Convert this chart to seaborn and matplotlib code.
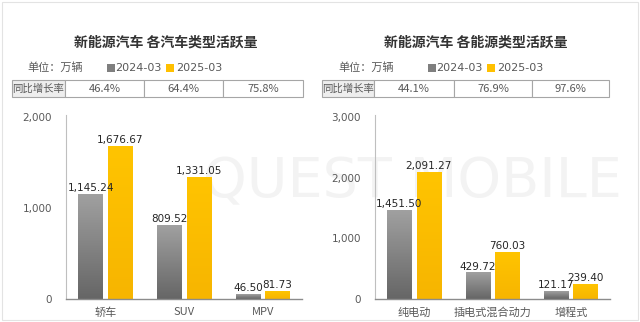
import numpy as np
import pandas as pd
import seaborn as sns
import matplotlib.pyplot as plt
from matplotlib.patches import Rectangle
from matplotlib.colors import LinearSegmentedColormap

sns.set_theme(style="white")
plt.rcParams['font.family'] = ['Noto Sans CJK SC', 'DejaVu Sans']

# ---------------- data ----------------
periods = ["2024-03", "2025-03"]
unit_label = "单位：万辆"
yoy_label = "同比增长率"

left_title = "新能源汽车 各汽车类型活跃量"
left_cats = ["轿车", "SUV", "MPV"]
left_2024 = [1145.24, 809.52, 46.50]
left_2025 = [1676.67, 1331.05, 81.73]
left_yoy = ["46.4%", "64.4%", "75.8%"]
left_ticks = [0, 1000, 2000]

right_title = "新能源汽车 各能源类型活跃量"
right_cats = ["纯电动", "插电式混合动力", "增程式"]
right_2024 = [1451.50, 429.72, 121.17]
right_2025 = [2091.27, 760.03, 239.40]
right_yoy = ["44.1%", "76.9%", "97.6%"]
right_ticks = [0, 1000, 2000, 3000]

# ---------------- style ----------------
W, H = 640, 322
GRAY = "#7f7f7f"
YELLOW = "#ffc000"
GRAD = {GRAY: ("#a0a0a0", "#666666"), YELLOW: ("#ffc400", "#f7b500")}
TXT = "#262626"
TICK = "#595959"

fig = plt.figure(figsize=(W / 100, H / 100), dpi=100)
fig.patch.set_facecolor("white")


def fx(px):
    return px / W


def fy(py):
    return 1 - py / H


# background layer: faint watermark + card border
bg = fig.add_axes([0, 0, 1, 1], zorder=-5)
bg.set_xlim(0, W)
bg.set_ylim(H, 0)
bg.axis("off")
bg.text(203, 182, "QUEST MOBILE", fontsize=40, color="#f3f3f3",
        ha="left", va="center", family="DejaVu Sans")
bg.add_patch(Rectangle((2, 2), 636, 318, fill=False, edgecolor="#e3e3e3", lw=0.8))


def panel(cats, v24, v25, yoy, ticks, title, ax_px, title_x, unit_x, leg_px, table_px):
    x0, y0, x1, y1 = ax_px
    ax = fig.add_axes([fx(x0), fy(y1), fx(x1 - x0), (y1 - y0) / H])
    ax.patch.set_alpha(0)
    df = pd.DataFrame({
        "cat": cats * 2,
        "period": [periods[0]] * len(cats) + [periods[1]] * len(cats),
        "value": list(v24) + list(v25),
    })
    sns.barplot(data=df, x="cat", y="value", hue="period", order=cats,
                hue_order=periods, palette=[GRAY, YELLOW], width=0.75, gap=0.17,
                legend=False, ax=ax, saturation=1, errorbar=None)
    for cont, vals in zip(ax.containers, [v24, v25]):
        ax.bar_label(cont, labels=[f"{v:,.2f}" for v in vals], padding=1,
                     fontsize=7.5, color=TXT, family="DejaVu Sans")
    ymax = ticks[-1]
    # gradient fill for bars
    for p in list(ax.patches):
        c = p.get_facecolor()
        hexc = GRAY if abs(c[0] - c[2]) < 0.1 else YELLOW
        top, bot = GRAD[hexc]
        cmap = LinearSegmentedColormap.from_list("g", [top, bot])
        x, w, h = p.get_x(), p.get_width(), p.get_height()
        ax.imshow(np.linspace(0, 1, 64).reshape(-1, 1), extent=[x, x + w, 0, h],
                  origin="upper", aspect="auto", cmap=cmap, zorder=2)
        p.set_visible(False)
    ax.set_ylim(0, ymax * 1.01)
    ax.set_xlim(-0.5, len(cats) - 0.5)
    ax.set_yticks(ticks)
    ax.set_yticklabels([f"{t:,}" for t in ticks], family="DejaVu Sans")
    ax.tick_params(axis="y", length=0, pad=10, labelsize=7.5, labelcolor=TICK)
    ax.tick_params(axis="x", length=0, pad=6, labelsize=8, labelcolor=TICK)
    ax.set_xlabel("")
    ax.set_ylabel("")
    for s in ["top", "right"]:
        ax.spines[s].set_visible(False)
    ax.spines["left"].set_color("#bfbfbf")
    ax.spines["left"].set_linewidth(0.8)
    ax.spines["bottom"].set_color("#8c8c8c")
    ax.spines["bottom"].set_linewidth(1.0)

    # title
    fig.text(fx(title_x), fy(43), title, fontsize=10, fontweight="bold",
             color="#333333", ha="center", va="center")
    # unit + legend
    fig.text(fx(unit_x), fy(68), unit_label, fontsize=8, color=TICK, ha="left", va="center")
    for (sx, tx), col, lab in zip(leg_px, [GRAY, YELLOW], periods):
        fig.patches.append(Rectangle((fx(sx), fy(72)), fx(8), 8 / H, transform=fig.transFigure,
                                     facecolor=col, edgecolor="none"))
        fig.text(fx(tx), fy(68), lab, fontsize=8, color=TICK, ha="left", va="center",
                 family="DejaVu Sans")
    # YoY table
    ty0, ty1 = 80, 97
    for i in range(len(table_px) - 1):
        a, b = table_px[i], table_px[i + 1]
        fig.patches.append(Rectangle((fx(a), fy(ty1)), fx(b - a), (ty1 - ty0) / H,
                                     transform=fig.transFigure,
                                     facecolor="#eeeeee" if i == 0 else "white",
                                     edgecolor="#a6a6a6", lw=0.8))
        label = yoy_label if i == 0 else yoy[i - 1]
        fig.text(fx((a + b) / 2), fy((ty0 + ty1) / 2), label,
                 fontsize=7.5 if i == 0 else 8, color=TICK, ha="center", va="center")
    return ax


panel(left_cats, left_2024, left_2025, left_yoy, left_ticks, left_title,
      (66, 115, 302, 299), 166, 27, [(107, 115), (166, 176)], [12, 65, 144, 223, 303])
panel(right_cats, right_2024, right_2025, right_yoy, right_ticks, right_title,
      (375, 115, 610, 299), 476, 338, [(428, 436), (487, 497)], [322, 374, 454, 532, 609])

fig.savefig("out.png", dpi=100, facecolor="white")
